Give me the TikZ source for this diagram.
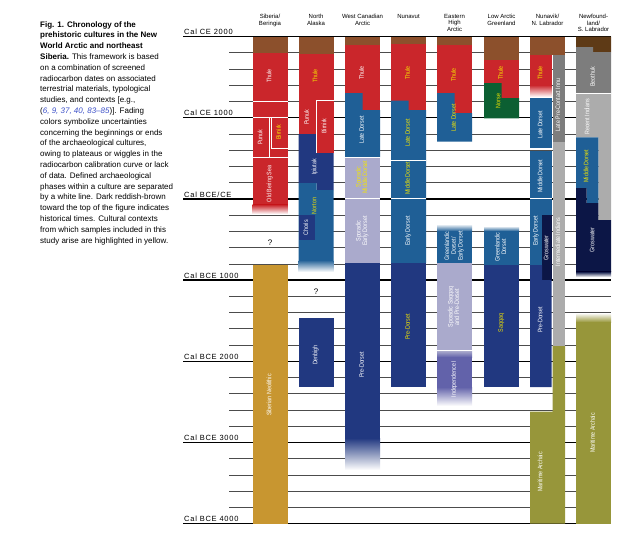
\documentclass[tikz,border=0pt]{standalone}
\usepackage{fontspec}
\setmainfont{Liberation Sans}
\newfontfamily\axisfont[LetterSpace=10]{Liberation Sans}
\usepackage{graphicx}
\definecolor{hist}{RGB}{140,80,44}
\definecolor{thule}{RGB}{202,38,43}
\definecolor{dorset}{RGB}{31,95,150}
\definecolor{predorset}{RGB}{33,56,128}
\definecolor{grosw}{RGB}{12,22,70}
\definecolor{spor}{RGB}{170,170,204}
\definecolor{indep}{RGB}{98,98,170}
\definecolor{sibneo}{RGB}{200,150,48}
\definecolor{marar}{RGB}{151,150,58}
\definecolor{beo}{RGB}{125,125,125}
\definecolor{lgray}{RGB}{172,172,172}
\definecolor{norse}{RGB}{12,95,50}
\definecolor{nfbrown}{RGB}{94,58,22}
\definecolor{labyellow}{RGB}{245,230,0}
\definecolor{citeblue}{RGB}{60,80,200}
\newcommand\cvl[1]{\scalebox{0.82}[1]{\begin{tabular}{@{}c@{}}#1\end{tabular}}}
\tikzset{
  gridline/.style={line width=0.7pt, draw=black!70},
  mill/.style={line width=1.3pt, draw=black},
  whiteline/.style={draw=white, line width=0.8pt},
  vlab/.style={rotate=90, inner sep=0pt, font=\fontsize{6.5}{6.6}\selectfont, text=white},
  ylab/.style={vlab, text=labyellow},
  hdr/.style={anchor=north, align=center, inner sep=0pt, font=\fontsize{6}{6.6}\selectfont},
  axl/.style={anchor=south west, inner sep=0pt, font=\axisfont\fontsize{7.5}{8}\selectfont},
  qmark/.style={inner sep=0pt, font=\fontsize{8}{8}\selectfont}
}
\begin{document}
\begin{tikzpicture}[x=1pt,y=-1pt]
\useasboundingbox (0,0) rectangle (636,544);
% ---------- grid ----------
\foreach \k in {0,...,30}{\pgfmathsetmacro\yy{36.5+16.24*\k}\draw[gridline] (229,\yy) -- (611,\yy);}
\foreach \k in {0,5,10,15,20,25,30}{\pgfmathsetmacro\yy{36.5+16.24*\k}\draw[mill] (183,\yy) -- (611,\yy);}
\node[axl] (la) at (184,35) {Cal CE 2000};
\node[axl] (lb) at (184,116.2) {Cal CE 1000};
\node[axl] (lc) at (184,197.4) {Cal BCE/CE};
\node[axl] (ld) at (184,278.6) {Cal BCE 1000};
\node[axl] (le) at (184,359.8) {Cal BCE 2000};
\node[axl] (lf) at (184,441) {Cal BCE 3000};
\node[axl] (lg) at (184,522.2) {Cal BCE 4000};
% ---------- headers ----------
\node[hdr] (h1) at (270,14) {Siberia/\\Beringia};
\node[hdr] (h2) at (316,14) {North\\Alaska};
\node[hdr] (h3) at (362.5,14) {West Canadian\\Arctic};
\node[hdr] (h4) at (408.5,14) {Nunavut};
\node[hdr] (h5) at (454.5,14) {Eastern\\High\\Arctic};
\node[hdr] (h6) at (501.5,14) {Low Arctic\\Greenland};
\node[hdr] (h7) at (547.5,14) {Nunavik/\\N. Labrador};
\node[hdr] (h8) at (593.5,14) {Newfound-\\land/\\S. Labrador};
% ---------- column 1: Siberia/Beringia ----------
\fill[hist] (252.5,36.5) rectangle (287.5,52.5);
\fill[thule] (252.5,52.5) rectangle (287.5,205);
\shade[top color=thule,bottom color=white] (252.5,204.8) rectangle (287.5,214);
\draw[whiteline] (252.5,101) -- (287.5,101);
\draw[whiteline] (252.5,117) -- (287.5,117);
\draw[whiteline] (269.5,117) -- (269.5,157.5);
\draw[whiteline] (271.5,117) -- (271.5,148.5) -- (287.5,148.5);
\draw[whiteline] (252.5,157.5) -- (287.5,157.5);
\fill[sibneo] (252.5,264.5) rectangle (287.5,523.7);
\node[vlab] (c1a) at (270,76) {\cvl{Thule}};
\node[vlab] (c1b) at (261,137) {\cvl{Punuk}};
\node[ylab] (c1c) at (279.5,132) {\cvl{Birnirk}};
\node[vlab] (c1d) at (270,184) {\cvl{Old Bering Sea}};
\node[vlab] (c1e) at (270,395) {\cvl{Siberian Neolithic}};
\node[qmark] (q1) at (270,243) {?};
% ---------- column 2: North Alaska ----------
\fill[hist] (298.5,36.5) rectangle (333.5,54);
\fill[thule] (298.5,54) rectangle (333.5,153);
\fill[predorset] (298.5,134) -- (316.5,134) -- (316.5,153) -- (333.5,153) -- (333.5,190) -- (316.5,190) -- (316.5,183) -- (298.5,183) -- cycle;
\fill[dorset] (298.5,183) -- (316.5,183) -- (316.5,190) -- (333.5,190) -- (333.5,260.2) -- (298.5,260.2) -- cycle;
\shade[top color=dorset,bottom color=white] (298.5,260) rectangle (333.5,272);
\fill[predorset] (298.5,215) rectangle (315,240);
\draw[whiteline] (316.5,153) -- (316.5,100) -- (333.5,100);
\fill[predorset] (298.5,318) rectangle (333.5,387);
\node[ylab] (c2a) at (316,76) {\cvl{Thule}};
\node[vlab] (c2b) at (307.5,117) {\cvl{Punuk}};
\node[vlab] (c2c) at (325,126) {\cvl{Birnirk}};
\node[vlab] (c2d) at (315,167) {\cvl{Ipiutak}};
\node[ylab] (c2e) at (315,206) {\cvl{Norton}};
\node[vlab] (c2f) at (306.7,228) {\cvl{Choris}};
\node[vlab] (c2g) at (316,355) {\cvl{Denbigh}};
\node[qmark] (q2) at (316,292) {?};
% ---------- column 3: West Canadian Arctic ----------
\fill[hist] (345,36.5) rectangle (380,45);
\fill[thule] (345,45) rectangle (380,110);
\fill[dorset] (345,93) -- (362.5,93) -- (362.5,110) -- (380,110) -- (380,157) -- (345,157) -- cycle;
\fill[spor] (345,157) rectangle (380,263.2);
\draw[whiteline] (345,157) -- (380,157);
\draw[whiteline] (345,198) -- (380,198);
\fill[predorset] (345,263) rectangle (380,438.2);
\shade[top color=predorset,bottom color=white] (345,438) rectangle (380,470);
\node[vlab] (c3a) at (362.5,73) {\cvl{Thule}};
\node[vlab] (c3b) at (362.5,130) {\cvl{Late Dorset}};
\node[ylab] (c3c) at (362.5,177) {\cvl{Sporadic\\Middle Dorset}};
\node[vlab] (c3d) at (362.5,231) {\cvl{Sporadic\\Early Dorset}};
\node[vlab] (c3e) at (362.5,365) {\cvl{Pre-Dorset}};
% ---------- column 4: Nunavut ----------
\fill[hist] (391,36.5) rectangle (426,44);
\fill[thule] (391,44) rectangle (426,110);
\fill[dorset] (391,100.5) -- (408.5,100.5) -- (408.5,110) -- (426,110) -- (426,263.2) -- (391,263.2) -- cycle;
\draw[whiteline] (391,160) -- (426,160);
\draw[whiteline] (391,198) -- (426,198);
\fill[predorset] (391,263) rectangle (426,387);
\node[ylab] (c4a) at (408.5,73) {\cvl{Thule}};
\node[ylab] (c4b) at (408.5,133) {\cvl{Late Dorset}};
\node[ylab] (c4c) at (408.5,178) {\cvl{Middle Dorset}};
\node[vlab] (c4d) at (408.5,231) {\cvl{Early Dorset}};
\node[ylab] (c4e) at (408.5,327) {\cvl{Pre-Dorset}};
% ---------- column 5: Eastern High Arctic ----------
\fill[hist] (437,36.5) rectangle (472,45);
\fill[thule] (437,45) rectangle (472,113);
\fill[dorset] (437,93) -- (454.5,93) -- (454.5,113) -- (472,113) -- (472,141.7) -- (437,141.7) -- cycle;
\shade[top color=white,bottom color=dorset] (437,224) rectangle (472,231.2);
\fill[dorset] (437,231) rectangle (472,263.2);
\fill[spor] (437,263) rectangle (472,350);
\draw[whiteline] (437,350.5) -- (472,350.5);
\shade[top color=spor,bottom color=indep] (437,351) rectangle (472,357.2);
\fill[indep] (437,357) rectangle (472,387.2);
\shade[top color=indep,bottom color=white] (437,387) rectangle (472,406);
\node[ylab] (c5a) at (454.5,75) {\cvl{Thule}};
\node[ylab] (c5b) at (454.5,118) {\cvl{Late Dorset}};
\node[vlab] (c5c) at (454.5,246) {\cvl{Greenlandic\\Dorset/\\Early Dorset}};
\node[vlab] (c5d) at (454.5,307) {\cvl{Sporadic Saqqaq\\and Pre-Dorset}};
\node[vlab] (c5e) at (454.5,379) {\cvl{Independence I}};
% ---------- column 6: Low Arctic Greenland ----------
\fill[hist] (484,36.5) rectangle (519,60);
\fill[thule] (484,60) rectangle (519,98.2);
\fill[norse] (484,83) -- (501.5,83) -- (501.5,98) -- (519,98) -- (519,118.3) -- (484,118.3) -- cycle;
\shade[top color=white,bottom color=dorset] (484,226) rectangle (519,231.2);
\fill[dorset] (484,231) rectangle (519,265.2);
\fill[predorset] (484,265) rectangle (519,387);
\node[ylab] (c6a) at (501.5,73) {\cvl{Thule}};
\node[ylab] (c6b) at (499,101) {\cvl{Norse}};
\node[vlab] (c6c) at (501.5,247) {\cvl{Greenlandic\\Dorset}};
\node[ylab] (c6d) at (501.5,323) {\cvl{Saqqaq}};
% ---------- column 7: Nunavik / N. Labrador ----------
\fill[hist] (530,36.5) rectangle (565,55);
\fill[thule] (530,55) rectangle (551.7,85.2);
\shade[top color=thule,middle color=orange!90!red,bottom color=white] (530,85) rectangle (551.7,97);
\fill[beo] (552.5,55) rectangle (565,141.9);
\fill[lgray] (552.5,141.7) rectangle (565,346.2);
\fill[dorset] (530,98) rectangle (551.7,148);
\fill[dorset] (530,150.7) rectangle (551.7,265.2);
\draw[whiteline] (530,198) -- (551.7,198);
\fill[grosw] (542,215) rectangle (551.7,280);
\fill[predorset] (530,265) -- (542,265) -- (542,280) -- (551.7,280) -- (551.7,387) -- (530,387) -- cycle;
\fill[marar] (552.5,346) -- (565,346) -- (565,523.7) -- (530,523.7) -- (530,411.7) -- (552.5,411.7) -- cycle;
\node[ylab] (c7a) at (541,73) {\cvl{Thule}};
\node[vlab] (c7b) at (558.7,105) {\cvl{Late Pre-Contact Innu}};
\node[vlab] (c7c) at (541,125) {\cvl{Late Dorset}};
\node[vlab] (c7d) at (541,176) {\cvl{Middle Dorset}};
\node[vlab] (c7e) at (536.3,231) {\cvl{Early Dorset}};
\node[vlab] (c7f) at (547,248) {\cvl{Groswater}};
\node[vlab] (c7g) at (558.7,242) {\cvl{Intermediate Indians}};
\node[vlab] (c7h) at (541,320) {\cvl{Pre-Dorset}};
\node[vlab] (c7i) at (541,472) {\cvl{Maritime Archaic}};
% ---------- column 8: Newfoundland / S. Labrador ----------
\fill[nfbrown] (576,36.5) -- (611,36.5) -- (611,52) -- (593,52) -- (593,47) -- (576,47) -- cycle;
\fill[beo] (576,47) -- (593,47) -- (593,52) -- (611,52) -- (611,93.3) -- (576,93.3) -- cycle;
\fill[lgray] (576,93.5) -- (611,93.5) -- (611,220.2) -- (598.3,220.2) -- (598.3,137.3) -- (576,137.3) -- cycle;
\draw[whiteline] (576,93.5) -- (611,93.5);
\fill[dorset] (576,137.3) -- (598.3,137.3) -- (598.3,203) -- (586.7,203) -- (586.7,188) -- (576,188) -- cycle;
\fill[grosw] (576,188) -- (586.7,188) -- (586.7,203) -- (598.3,203) -- (598.3,220) -- (611,220) -- (611,271.9) -- (576,271.9) -- cycle;
\shade[top color=grosw,bottom color=white] (576,271.7) rectangle (611,277);
\shade[top color=white,bottom color=marar] (576,313) rectangle (611,322.2);
\fill[marar] (576,322) rectangle (611,523.7);
\node[vlab] (c8a) at (593.5,77) {\cvl{Beothuk}};
\node[vlab] (c8b) at (588,117) {\cvl{Recent Indians}};
\node[ylab] (c8c) at (587,166) {\cvl{Middle Dorset}};
\node[vlab] (c8d) at (593,240) {\cvl{Groswater}};
\node[vlab] (c8e) at (593.5,433) {\cvl{Maritime Archaic}};
% ---------- caption ----------
\node[anchor=north west, inner sep=0pt] (cap) at (40,19.4) {\fontsize{8}{10.8}\selectfont\begin{tabular}{@{}l@{}}
\textbf{Fig. 1. Chronology of the}\\
\textbf{prehistoric cultures in the New}\\
\textbf{World Arctic and northeast}\\
\textbf{Siberia.} This framework is based\\
on a combination of screened\\
radiocarbon dates on associated\\
terrestrial materials, typological\\
studies, and contexts [e.g.,\\
(\textcolor{citeblue}{\textit{6, 9, 37, 40, 83–85}})]. Fading\\
colors symbolize uncertainties\\
concerning the beginnings or ends\\
of the archaeological cultures,\\
owing to plateaus or wiggles in the\\
radiocarbon calibration curve or lack\\
of data. Defined archaeological\\
phases within a culture are separated\\
by a white line. Dark reddish-brown\\
toward the top of the figure indicates\\
historical times. Cultural contexts\\
from which samples included in this\\
study arise are highlighted in yellow.
\end{tabular}};
\end{tikzpicture}
\end{document}
